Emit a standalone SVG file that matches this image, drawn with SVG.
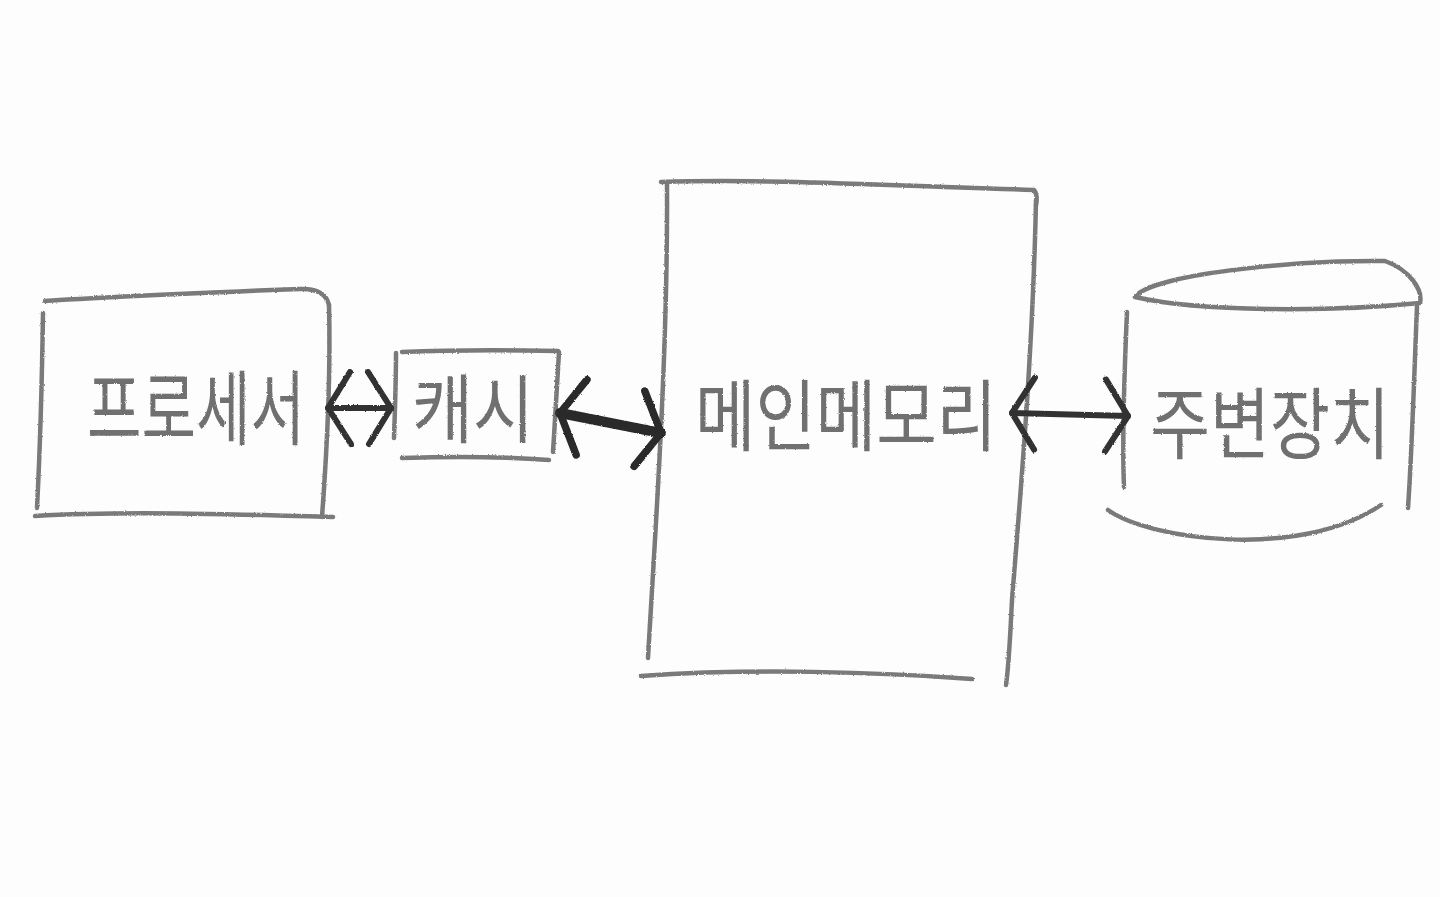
<svg xmlns="http://www.w3.org/2000/svg" width="1440" height="897" viewBox="0 0 1440 897">
<defs>
<filter id="pencil" x="-5%" y="-5%" width="110%" height="110%">
<feTurbulence type="fractalNoise" baseFrequency="0.9" numOctaves="1" seed="3" result="n"/>
<feDisplacementMap in="SourceGraphic" in2="n" scale="2.5" xChannelSelector="R" yChannelSelector="G"/>
<feGaussianBlur stdDeviation="0.6"/>
</filter>
<marker id="head" viewBox="0 0 32 80" markerWidth="32" markerHeight="80" refX="28" refY="40" orient="auto-start-reverse" markerUnits="userSpaceOnUse">
<path d="M5,4 L28,40 L6,76" fill="none" stroke="#333" stroke-width="6" stroke-linecap="round" stroke-linejoin="round"/>
</marker>
<marker id="headBold" viewBox="0 0 34 84" markerWidth="34" markerHeight="84" refX="30" refY="42" orient="auto-start-reverse" markerUnits="userSpaceOnUse">
<path d="M6,4 L30,42 L10,80" fill="none" stroke="#2c2c2c" stroke-width="7.5" stroke-linecap="round" stroke-linejoin="round"/>
</marker>
</defs>
<style>
.ln{fill:none;stroke:#7a7a7a;stroke-width:4.5;stroke-linecap:round;stroke-linejoin:round}
.lbl{font-family:"Noto Sans CJK KR","Noto Sans",sans-serif;font-size:60px;font-weight:400;fill:#707070;text-anchor:middle;dominant-baseline:central}
.arr{fill:none;stroke:#333;stroke-width:6;stroke-linecap:round}
</style>
<rect width="1440" height="897" fill="#fdfdfd"/>
<g filter="url(#pencil)">
<g id="processor">
<path class="ln" d="M45,301 C120,296 220,292 300,289 Q325,288 329,305"/>
<path class="ln" d="M329,305 C331,380 327,450 322,517"/>
<path class="ln" d="M43,313 C42,380 40,450 37,508"/>
<path class="ln" d="M35,516 C120,511 230,514 333,517"/>
<text class="lbl" transform="translate(196,403) scale(1,1.35)" x="0" y="0" textLength="218" lengthAdjust="spacingAndGlyphs">프로세서</text>
</g>
<g id="cache">
<path class="ln" d="M402,352 C450,350 510,350 558,351"/>
<path class="ln" d="M559,352 C557,390 555,420 553,452"/>
<path class="ln" d="M396,353 C396,380 395,410 394,438"/>
<path class="ln" d="M402,458 C460,456 510,457 549,460"/>
<text class="lbl" transform="translate(473,404) scale(1,1.25)" x="0" y="0" textLength="122" lengthAdjust="spacingAndGlyphs">캐시</text>
</g>
<g id="main-memory">
<path class="ln" d="M661,182 C760,178 900,186 1034,190 Q1038,195 1036,205"/>
<path class="ln" d="M667,183 C668,350 656,520 648,658"/>
<path class="ln" d="M1036,200 C1033,350 1020,500 1012,600 C1010,640 1009,665 1006,685"/>
<path class="ln" d="M641,676 C750,668 880,672 972,679"/>
<text class="lbl" transform="translate(846,411) scale(1,1.3)" x="0" y="0" textLength="302" lengthAdjust="spacingAndGlyphs">메인메모리</text>
</g>
<g id="storage">
<path class="ln" d="M1135,297 C1150,275 1290,260 1385,261 C1410,270 1423,290 1420,303 C1330,312 1200,312 1135,297"/>
<path class="ln" d="M1127,312 C1124,380 1122,440 1124,487"/>
<path class="ln" d="M1417,306 C1414,380 1412,450 1408,508"/>
<path class="ln" d="M1108,510 C1150,540 1300,560 1381,505"/>
<text class="lbl" transform="translate(1270,419) scale(1,1.3)" x="0" y="0" textLength="240" lengthAdjust="spacingAndGlyphs">주변장치</text>
</g>
<g id="connectors">
<path class="arr" d="M328,408 L391,408" marker-start="url(#head)" marker-end="url(#head)"/>
<path class="arr" d="M560,413 L661,433" style="stroke:#2c2c2c;stroke-width:10" marker-start="url(#headBold)" marker-end="url(#headBold)"/>
<path class="arr" d="M1012,413 L1128,416" marker-start="url(#head)" marker-end="url(#head)"/>
</g>
</g>
</svg>
